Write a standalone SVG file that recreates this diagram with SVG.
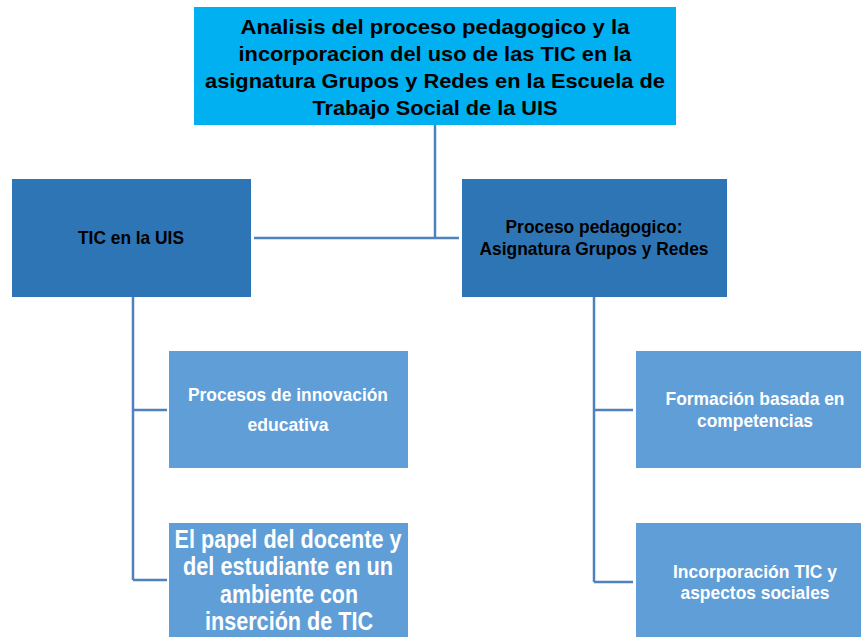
<svg xmlns="http://www.w3.org/2000/svg" width="861" height="637" viewBox="0 0 861 637">
<style>
text{font-family:"Liberation Sans Narrow","Liberation Sans",Arial,sans-serif;font-weight:bold;text-anchor:middle}
.dark{fill:#000}
.light{fill:#fff}
.top{fill:#00B0F0}
.mid{fill:#2E75B6}
.leaf{fill:#5F9ED7}
.conn{stroke:#4F81BD;stroke-width:2.5;fill:none}
</style>
<rect width="861" height="637" fill="#fff"/>
<g id="connectors">
<path class="conn" d="M435,125 V238 M254,238 H459"/>
<path class="conn" d="M133,297 V580 M133,410 H167 M133,580 H167"/>
<path class="conn" d="M594,297 V582 M594,410 H633 M594,582 H633"/>
</g>
<g id="root">
<rect class="top" x="194" y="7" width="482" height="118"/>
<text class="dark" font-size="21" x="435" y="34" textLength="389" lengthAdjust="spacingAndGlyphs">Analisis del proceso pedagogico y la</text>
<text class="dark" font-size="21" x="435" y="61" textLength="393" lengthAdjust="spacingAndGlyphs">incorporacion del uso de las TIC en la</text>
<text class="dark" font-size="21" x="435" y="88" textLength="460" lengthAdjust="spacingAndGlyphs">asignatura Grupos y Redes en la Escuela de</text>
<text class="dark" font-size="21" x="435" y="115" textLength="245" lengthAdjust="spacingAndGlyphs">Trabajo Social de la UIS</text>
</g>
<g id="tic-uis">
<rect class="mid" x="12" y="179" width="239" height="118"/>
<text class="dark" font-size="19" x="131" y="244" textLength="106" lengthAdjust="spacingAndGlyphs">TIC en la UIS</text>
</g>
<g id="proceso">
<rect class="mid" x="462" y="179" width="265" height="118"/>
<text class="dark" font-size="19" x="594" y="233" textLength="177" lengthAdjust="spacingAndGlyphs">Proceso pedagogico:</text>
<text class="dark" font-size="19" x="594" y="255" textLength="229" lengthAdjust="spacingAndGlyphs">Asignatura Grupos y Redes</text>
</g>
<g id="innovacion">
<rect class="leaf" x="169" y="351" width="239" height="117"/>
<text class="light" font-size="19" x="288" y="401" textLength="200" lengthAdjust="spacingAndGlyphs">Procesos de innovación</text>
<text class="light" font-size="19" x="288" y="431" textLength="81" lengthAdjust="spacingAndGlyphs">educativa</text>
</g>
<g id="papel">
<rect class="leaf" x="169" y="523" width="239" height="114"/>
<text class="light" font-size="25" x="288" y="548" textLength="227" lengthAdjust="spacingAndGlyphs">El papel del docente y</text>
<text class="light" font-size="25" x="288" y="575" textLength="210" lengthAdjust="spacingAndGlyphs">del estudiante en un</text>
<text class="light" font-size="25" x="289" y="603" textLength="138" lengthAdjust="spacingAndGlyphs">ambiente con</text>
<text class="light" font-size="25" x="289" y="630" textLength="168" lengthAdjust="spacingAndGlyphs">inserción de TIC</text>
</g>
<g id="competencias">
<rect class="leaf" x="636" y="351" width="225" height="117"/>
<text class="light" font-size="19" x="755" y="405" textLength="179" lengthAdjust="spacingAndGlyphs">Formación basada en</text>
<text class="light" font-size="19" x="755" y="427" textLength="116" lengthAdjust="spacingAndGlyphs">competencias</text>
</g>
<g id="incorporacion">
<rect class="leaf" x="636" y="523" width="225" height="114"/>
<text class="light" font-size="19" x="755" y="578" textLength="164" lengthAdjust="spacingAndGlyphs">Incorporación TIC y</text>
<text class="light" font-size="19" x="755" y="599" textLength="149" lengthAdjust="spacingAndGlyphs">aspectos sociales</text>
</g>
</svg>
